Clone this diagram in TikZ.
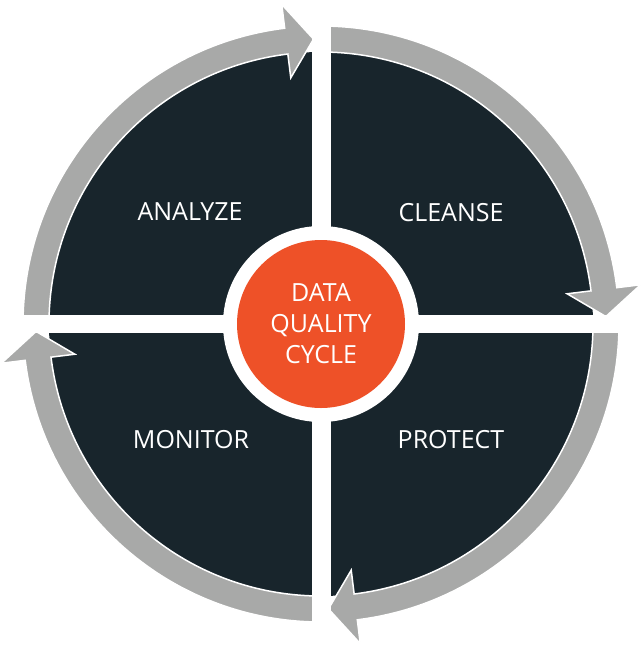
\documentclass[tikz,border=0pt]{standalone}
\usepackage{fontspec}
\setsansfont{Open Sans}
\usetikzlibrary{positioning}
\definecolor{quaddark}{HTML}{18252C}
\definecolor{bandgray}{HTML}{A8A9A8}
\definecolor{coreorange}{HTML}{EE5128}
\begin{document}
\begin{tikzpicture}[
    x=1pt, y=1pt,
    band/.style={fill=bandgray, draw=white, line width=1.5pt},
    label/.style={text=white, font=\sffamily\fontsize{25}{31}\selectfont, align=center}
]
\useasboundingbox (0,0) rectangle (642,-649);

% Dark disk
\fill[quaddark] (321,-324) circle (272);

% Curved arrows, one per quadrant
\begin{scope}[shift={(321,-324)}]
\foreach \s in {180,90,0,-90} {
    \path[band] (\s:298) arc[start angle=\s, end angle=\s-83, radius=298]
        -- (\s-83:322) -- (\s-88.5:285) -- (\s-83:248)
        -- (\s-83:272) arc[start angle=\s-83, end angle=\s, radius=272] -- cycle;
}
\end{scope}

% Gaps between quadrants
\fill[white] (312,0) rectangle (331,-649);
\fill[white] (0,-315) rectangle (642,-333);

% Core
\node[circle, fill=white, minimum size=196pt, inner sep=0] (ring) at (321,-324) {};
\node[circle, fill=coreorange, minimum size=168pt, inner sep=0, label] (core) at (ring) {DATA\\QUALITY\\CYCLE};

% Quadrant labels
\node[label] (analyze) at (190,-212) {ANALYZE};
\node[label] (cleanse) at (451,-213) {CLEANSE};
\node[label] (monitor) at (191,-440) {MONITOR};
\node[label] (protect) at (451,-440) {PROTECT};

\end{tikzpicture}
\end{document}
